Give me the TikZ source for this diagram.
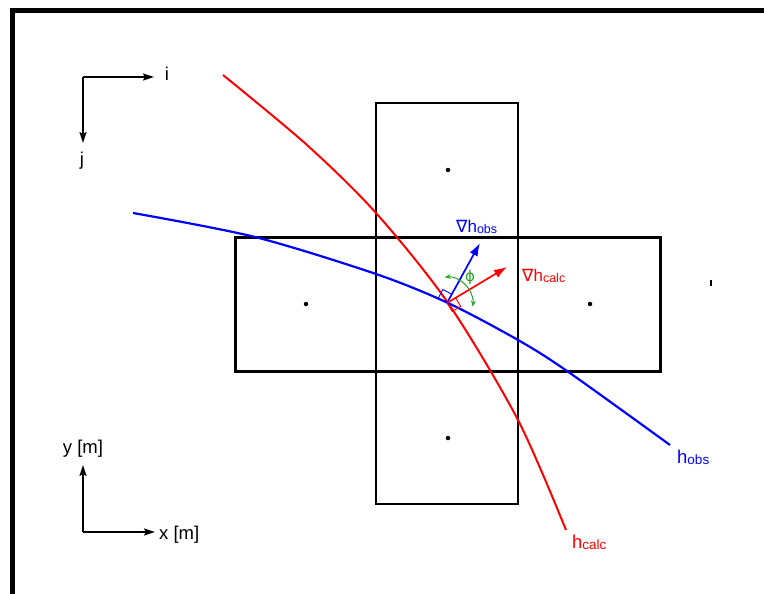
\documentclass[tikz,border=0pt]{standalone}
\usepackage{fontspec}
\setmainfont{Liberation Sans}
\newfontfamily\symfont{DejaVu Sans}
\usetikzlibrary{arrows.meta,calc}
\definecolor{phigreen}{RGB}{40,165,40}
\newcommand{\hsub}[2]{h{\fontsize{#2}{#2}\selectfont\raisebox{-1pt}{#1}}}
\tikzset{
  axisarrow/.style={line width=1.8pt, -{Stealth[length=11pt,width=7pt,inset=2pt]}},
  gradarrow/.style={line width=1.7pt, -{Latex[length=13pt,width=9pt]}},
  axislabel/.style={inner sep=0pt, font=\fontsize{18.5}{18.5}\selectfont},
  curvelabel/.style={inner sep=0pt, anchor=base west, font=\fontsize{18.5}{18.5}\selectfont},
  gradlabel/.style={inner sep=0pt, anchor=base west, font=\fontsize{17}{17}\selectfont},
  cellpoint/.style={circle, fill=black, inner sep=0pt, minimum size=4.5pt},
  rightangle/.style={line width=0.9pt},
}
\begin{document}
\begin{tikzpicture}[x=1pt, y=-1pt]
\useasboundingbox (0,0) rectangle (764,594);
\draw[line width=4.5pt] (764,10.3) -- (12.5,10.3) -- (12.5,594);
\draw[line width=1.6pt] (376,103) rectangle (518,504);
\draw[line width=3pt] (235,237) rectangle (660,371);
\node[cellpoint] (cn) at (448,170) {};
\node[cellpoint] (cw) at (306,304) {};
\node[cellpoint] (ce) at (590,304) {};
\node[cellpoint] (cs) at (448,438) {};
\node[fill=black, inner sep=0pt, minimum width=2pt, minimum height=6pt] (tick) at (711,283) {};
\coordinate (ijo) at (83,77);
\coordinate (itip) at (154,77);
\coordinate (jtip) at (83,143);
\node[axislabel] (ilab) at (167,74) {i};
\node[axislabel] (jlab) at (82,161) {j};
\draw[axisarrow] (ijo) -- (itip);
\draw[axisarrow] (ijo) -- (jtip);
\coordinate (xyo) at (83,532);
\coordinate (xtip) at (155,532);
\coordinate (ytip) at (83,465);
\node[axislabel] (ylab) at (83,449) {y [m]};
\node[axislabel, anchor=west] (xlab) at (159,535) {x [m]};
\draw[axisarrow] (xyo) -- (xtip);
\draw[axisarrow] (xyo) -- (ytip);
\draw[red, line width=2pt] plot[smooth] coordinates {(223,75) (307,145) (376,213) (448,303) (518,420) (566,530)};
\draw[blue, line width=2.2pt] plot[smooth] coordinates {(133,213) (255,237) (376,274) (448,303) (518,340) (567,371) (670,445)};
\node[curvelabel, red] (hcalc) at (572,548) {\hsub{calc}{13.5}};
\node[curvelabel, blue] (hobs) at (677,463) {\hsub{obs}{13.5}};
\coordinate (p) at (447,303);
\coordinate (gobs) at (480,243);
\coordinate (gcalc) at (507,267);
\draw[rightangle, blue] (p) -- ++(-8.8,-4.7) -- ++(4.7,-8.8) -- ++(8.8,4.7);
\draw[rightangle, red] (p) -- ++(5.2,8.5) -- ++(8.5,-5.2) -- ++(-5.2,-8.5);
\draw[gradarrow, blue] (p) -- (gobs);
\draw[gradarrow, red] (p) -- (gcalc);
\draw[phigreen, line width=1pt, {Stealth[length=6pt,width=5pt]}-{Stealth[length=6pt,width=5pt]}] ($(p)+(-2.3,-25.9)$) arc[start angle=95, end angle=-8, radius=26pt];
\node[phigreen, inner sep=0pt, font=\symfont\fontsize{15}{15}\selectfont] (phi) at (470,277) {ϕ};
\node[gradlabel, blue] (lobs) at (456,232) {{\symfont ∇}\hsub{obs}{12.5}};
\node[gradlabel, red] (lcalc) at (522,281) {{\symfont ∇}\hsub{calc}{12.5}};
\end{tikzpicture}
\end{document}
